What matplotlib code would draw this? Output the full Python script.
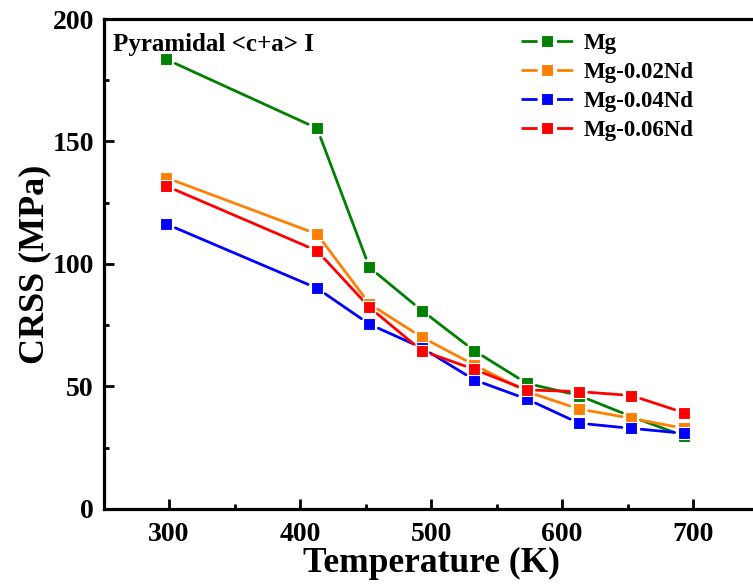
import matplotlib
matplotlib.use("Agg")
import matplotlib.pyplot as plt
from matplotlib.ticker import MultipleLocator
from matplotlib.patches import FancyArrowPatch
from matplotlib.lines import Line2D

plt.rcParams['font.family'] = ['Liberation Serif', 'DejaVu Serif']
plt.rcParams['font.weight'] = 'bold'

temperature = [298, 413, 453, 493, 533, 573, 613, 653, 693]
crss_mg = [183.5, 155.4, 98.6, 81.0, 64.6, 51.3, 46.3, 37.7, 29.8]
crss_mg_002nd = [135.2, 112.2, 83.7, 70.1, 58.8, 47.9, 40.8, 37.0, 32.9]
crss_mg_004nd = [116.3, 90.1, 75.4, 65.8, 52.7, 44.9, 35.0, 32.9, 30.9]
crss_mg_006nd = [131.8, 105.4, 82.3, 64.6, 57.0, 48.6, 47.9, 46.3, 39.3]

series_names = ["Mg", "Mg-0.02Nd", "Mg-0.04Nd", "Mg-0.06Nd"]
series_values = [crss_mg, crss_mg_002nd, crss_mg_004nd, crss_mg_006nd]
series_colors = ["#008000", "#FF8000", "#0000FF", "#FF0000"]

fig = plt.figure(figsize=(7.53, 5.85), dpi=100)
ax = fig.add_axes([0.1375, 0.130, 0.8698, 0.8375])

LW = 2.0
handles = []
for name, vals, col in zip(series_names, series_values, series_colors):
    # connecting segments with a small gap around each symbol
    for (x0, y0), (x1, y1) in zip(zip(temperature[:-1], vals[:-1]),
                                  zip(temperature[1:], vals[1:])):
        seg = FancyArrowPatch((x0, y0), (x1, y1), arrowstyle='-',
                              shrinkA=7, shrinkB=7, color=col, lw=LW,
                              zorder=2)
        ax.add_patch(seg)
    ax.plot(temperature, vals, ls='none', marker='s', ms=9,
            mfc=col, mec='white', mew=0.8, zorder=3)
    handles.append(Line2D([], [], color=col, lw=LW, ls=(0, (5.8, 7.0, 5.8, 100)),
                          marker='s', ms=9, mfc=col, mec='white', mew=0.8,
                          label=name))

ax.set_xlim(250, 750)
ax.set_ylim(0, 200)
ax.xaxis.set_major_locator(MultipleLocator(100))
ax.xaxis.set_minor_locator(MultipleLocator(50))
ax.yaxis.set_major_locator(MultipleLocator(50))
ax.yaxis.set_minor_locator(MultipleLocator(25))

for side in ['left', 'bottom', 'top']:
    ax.spines[side].set_linewidth(2.3)
ax.spines['right'].set_visible(False)

ax.tick_params(which='major', direction='in', length=7.5, width=2.0,
               labelsize=20)
ax.tick_params(which='minor', direction='in', length=3.8, width=2.0)
ax.tick_params(axis='x', which='both', pad=9.5)
ax.tick_params(axis='y', which='both', pad=7)
for lab in ax.get_xticklabels() + ax.get_yticklabels():
    lab.set_fontweight('bold')

ax.set_xlabel("Temperature (K)", fontsize=25.5, fontweight='bold', labelpad=0)
ax.set_ylabel("CRSS (MPa)", fontsize=26, fontweight='bold', labelpad=1)

ax.text(0.015, 0.972, "Pyramidal <c+a> I", transform=ax.transAxes,
        fontsize=18, fontweight='bold', va='top', ha='left')

leg = ax.legend(handles=handles, loc='upper left', bbox_to_anchor=(0.6376, 0.971),
                frameon=False, fontsize=16.5, handlelength=2.27,
                handletextpad=0.48, labelspacing=0.35, borderpad=0,
                borderaxespad=0, numpoints=1)
for t in leg.get_texts():
    t.set_fontweight('bold')

fig.savefig("out.png", dpi=100)
